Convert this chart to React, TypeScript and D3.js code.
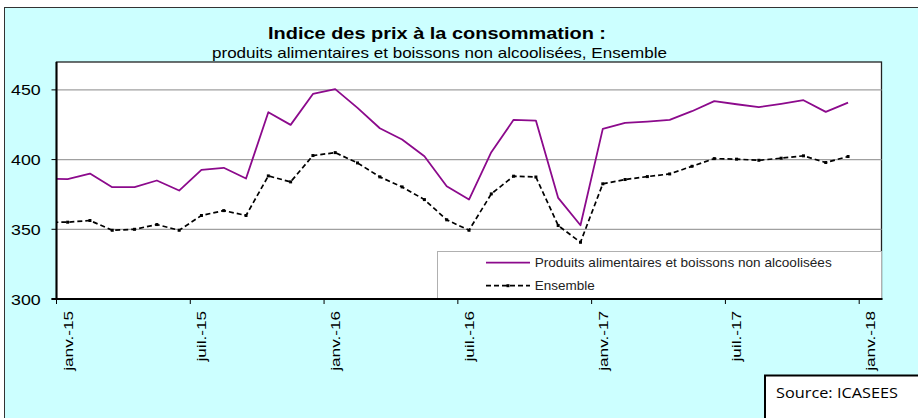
import { useEffect, useRef } from "react";
import { line, scaleLinear, select } from "d3";

// Monthly index values, déc.-14 (clipped at the left edge) to déc.-17
const months = [
  "déc.-14", "janv.-15", "févr.-15", "mars-15", "avr.-15", "mai-15", "juin-15",
  "juil.-15", "août-15", "sept.-15", "oct.-15", "nov.-15", "déc.-15",
  "janv.-16", "févr.-16", "mars-16", "avr.-16", "mai-16", "juin-16",
  "juil.-16", "août-16", "sept.-16", "oct.-16", "nov.-16", "déc.-16",
  "janv.-17", "févr.-17", "mars-17", "avr.-17", "mai-17", "juin-17",
  "juil.-17", "août-17", "sept.-17", "oct.-17", "nov.-17", "déc.-17",
];
const alimentaires = [
  386.3, 386.0, 390.0, 380.2, 380.2, 385.0, 377.8, 392.6, 394.1, 386.4, 434.0, 424.9, 447.1,
  450.5, 437.1, 422.5, 414.4, 402.4, 380.9, 371.3, 405.3, 428.5, 428.0, 372.5, 352.9,
  422.0, 426.3, 427.3, 428.5, 434.7, 441.9, 439.7, 437.6, 440.0, 442.6, 434.2, 440.9,
];
const ensemble = [
  355.0, 355.1, 356.3, 349.3, 350.0, 353.4, 349.3, 359.9, 363.4, 359.9, 388.3, 384.0, 402.9,
  405.0, 397.6, 387.6, 380.4, 371.3, 356.8, 349.3, 375.4, 388.1, 387.5, 352.7, 340.7,
  382.6, 385.7, 387.8, 389.7, 395.2, 400.7, 400.3, 399.5, 401.0, 402.7, 397.9, 402.2,
];
const xTickLabels = ["janv.-15", "juil.-15", "janv.-16", "juil.-16", "janv.-17", "juil.-17", "janv.-18"];
const yTicks = [300, 350, 400, 450];

const W = 918,
  H = 418;
const FONT = "Arial, 'Liberation Sans', sans-serif";
const PURPLE = "#8c0a8c";

export default function App() {
  const ref = useRef<SVGSVGElement>(null);

  useEffect(() => {
    if (!ref.current) return;
    const svg = select(ref.current);
    svg.selectAll("*").remove();

    const L = 56.5,
      R = 881.5,
      T = 62,
      B = 299;
    // month offset: first entry is déc.-14 at -0.5, points sit mid-month
    const x = scaleLinear().domain([0, 37]).range([L, R]);
    const y = scaleLinear().domain([300, 470]).range([B, T]);
    const px = (_d: number, i: number) => x(i - 0.5);

    // outer chart area
    svg.append("rect").attr("x", 0).attr("y", 0).attr("width", W).attr("height", H).attr("fill", "#fff");
    svg
      .append("rect")
      .attr("x", 4.5)
      .attr("y", 7.5)
      .attr("width", W + 10)
      .attr("height", H + 10)
      .attr("fill", "#ccffff")
      .attr("stroke", "#333")
      .attr("stroke-width", 1);

    // title
    svg
      .append("text")
      .attr("x", 268)
      .attr("y", 38.5)
      .attr("font-family", FONT)
      .attr("font-weight", "bold")
      .attr("font-size", 16.5)
      .attr("textLength", 338)
      .attr("lengthAdjust", "spacingAndGlyphs")
      .text("Indice des prix à la consommation :");
    svg
      .append("text")
      .attr("x", 212)
      .attr("y", 58.3)
      .attr("font-family", FONT)
      .attr("font-size", 14.8)
      .attr("textLength", 455)
      .attr("lengthAdjust", "spacingAndGlyphs")
      .text("produits alimentaires et boissons non alcoolisées, Ensemble");

    // plot area
    svg
      .append("rect")
      .attr("x", L)
      .attr("y", T)
      .attr("width", R - L)
      .attr("height", B - T)
      .attr("fill", "#fff")
      .attr("stroke", "#222")
      .attr("stroke-width", 1.3);

    const defs = svg.append("defs");
    defs
      .append("clipPath")
      .attr("id", "plot-clip")
      .append("rect")
      .attr("x", L)
      .attr("y", T)
      .attr("width", R - L)
      .attr("height", B - T);

    // gridlines
    svg
      .selectAll("line.grid")
      .data(yTicks.filter((t) => t > 300))
      .join("line")
      .attr("class", "grid")
      .attr("x1", L)
      .attr("x2", R)
      .attr("y1", (d) => y(d))
      .attr("y2", (d) => y(d))
      .attr("stroke", "#a0a0a0")
      .attr("stroke-width", 1.2);

    // legend box
    svg
      .append("rect")
      .attr("x", 437.5)
      .attr("y", 251.5)
      .attr("width", R - 437.5)
      .attr("height", B - 251.5)
      .attr("fill", "#fff")
      .attr("stroke", "#b0b0b0")
      .attr("stroke-width", 1);

    // series
    const g = svg.append("g").attr("clip-path", "url(#plot-clip)");
    const lineGen = line<number>()
      .x(px)
      .y((d) => y(d));
    g.append("path")
      .attr("d", lineGen(alimentaires) || "")
      .attr("fill", "none")
      .attr("stroke", PURPLE)
      .attr("stroke-width", 1.8)
      .attr("stroke-linejoin", "round");
    g.append("path")
      .attr("d", lineGen(ensemble) || "")
      .attr("fill", "none")
      .attr("stroke", "#000")
      .attr("stroke-width", 1.7)
      .attr("stroke-dasharray", "5,3");
    g.selectAll("rect.mk")
      .data(ensemble)
      .join("rect")
      .attr("class", "mk")
      .attr("x", (d, i) => px(d, i) - 1.5)
      .attr("y", (d) => y(d) - 1.5)
      .attr("width", 3)
      .attr("height", 3)
      .attr("fill", "#000");

    // axes
    svg.append("line").attr("x1", L).attr("x2", L).attr("y1", T).attr("y2", B).attr("stroke", "#000").attr("stroke-width", 2);
    svg.append("line").attr("x1", L - 5).attr("x2", R + 1).attr("y1", B).attr("y2", B).attr("stroke", "#000").attr("stroke-width", 2);
    svg
      .selectAll("line.ytick")
      .data(yTicks)
      .join("line")
      .attr("class", "ytick")
      .attr("x1", L - 5)
      .attr("x2", L)
      .attr("y1", (d) => y(d))
      .attr("y2", (d) => y(d))
      .attr("stroke", "#000")
      .attr("stroke-width", 1);
    svg
      .selectAll("text.ylab")
      .data(yTicks)
      .join("text")
      .attr("class", "ylab")
      .attr("x", 11)
      .attr("y", (d) => y(d) + 5.5)
      .attr("font-family", FONT)
      .attr("font-size", 15.5)
      .attr("textLength", 29.7)
      .attr("lengthAdjust", "spacingAndGlyphs")
      .text((d) => String(d));

    const xTicks = xTickLabels.map((_l, i) => i * 6);
    svg
      .selectAll("line.xtick")
      .data(xTicks)
      .join("line")
      .attr("class", "xtick")
      .attr("x1", (d) => x(d))
      .attr("x2", (d) => x(d))
      .attr("y1", B)
      .attr("y2", B + 5)
      .attr("stroke", "#000")
      .attr("stroke-width", 1);
    svg
      .selectAll("text.xlab")
      .data(xTickLabels)
      .join("text")
      .attr("class", "xlab")
      .attr("transform", (_d, i) => `translate(${x(xTicks[i]) + 16},311) rotate(-90) scale(1.43,1)`)
      .attr("text-anchor", "end")
      .attr("font-family", FONT)
      .attr("font-size", 12)
      .text((d) => d);

    // legend
    const leg = [
      { label: "Produits alimentaires et boissons non alcoolisées", color: PURPLE, dash: null, len: 297 },
      { label: "Ensemble", color: "#000", dash: "5,3", len: 60 },
    ];
    leg.forEach((e, i) => {
      const ly = 262.7 + i * 23;
      svg
        .append("line")
        .attr("x1", 486)
        .attr("x2", 530)
        .attr("y1", ly)
        .attr("y2", ly)
        .attr("stroke", e.color)
        .attr("stroke-width", 1.8)
        .attr("stroke-dasharray", e.dash);
      if (e.dash)
        svg.append("rect").attr("x", 506.5).attr("y", ly - 1.5).attr("width", 3).attr("height", 3).attr("fill", "#000");
      svg
        .append("text")
        .attr("x", 534.7)
        .attr("y", ly + 4.6)
        .attr("font-family", FONT)
        .attr("font-size", 13.5)
        .attr("fill", "#222")
        .attr("textLength", e.len)
        .attr("lengthAdjust", "spacingAndGlyphs")
        .text(e.label);
    });

    // source box
    svg
      .append("rect")
      .attr("x", 765)
      .attr("y", 375.5)
      .attr("width", 200)
      .attr("height", 80)
      .attr("fill", "#fff")
      .attr("stroke", "#000")
      .attr("stroke-width", 2);
    svg
      .append("text")
      .attr("x", 776)
      .attr("y", 398.3)
      .attr("font-family", "'Open Sans', 'DejaVu Sans', sans-serif")
      .attr("font-size", 15)
      .attr("textLength", 122)
      .attr("lengthAdjust", "spacingAndGlyphs")
      .text("Source: ICASEES");
  }, []);

  return (
    <svg
      ref={ref}
      width={W}
      height={H}
      viewBox={`0 0 ${W} ${H}`}
      style={{ position: "absolute", left: 0, top: 0, display: "block" }}
    />
  );
}
